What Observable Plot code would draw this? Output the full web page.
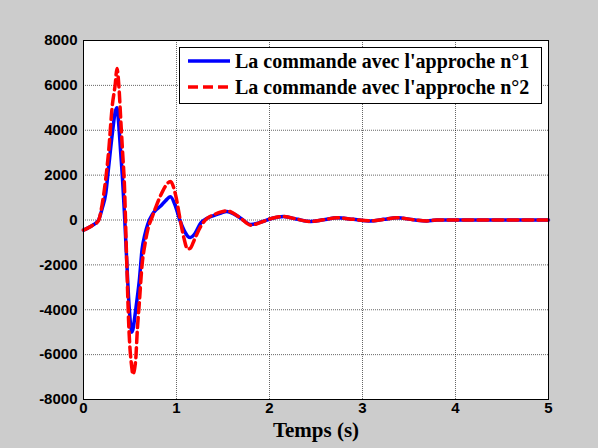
<!DOCTYPE html>
<html>
<head>
<meta charset="utf-8">
<script src="https://cdn.jsdelivr.net/npm/d3@7"></script>
<script src="https://cdn.jsdelivr.net/npm/@observablehq/plot@0.6"></script>
<style>
  html, body { margin: 0; padding: 0; background: #cccccc; }
  #wrap { position: relative; width: 598px; height: 448px; }
  #legend { position: absolute; left: 179px; top: 47px; }
</style>
</head>
<body>
<div id="wrap"></div>
<script>
// Time samples (s)
const time = [0, 0.05, 0.1, 0.16, 0.2, 0.24, 0.27, 0.31, 0.34, 0.36, 0.38, 0.40, 0.42, 0.44, 0.46, 0.49, 0.52, 0.53, 0.56, 0.58, 0.60, 0.63, 0.66, 0.69, 0.74, 0.78, 0.83, 0.88, 0.935, 0.99, 1.04, 1.08, 1.12, 1.15, 1.19, 1.26, 1.33, 1.40, 1.47, 1.54, 1.62, 1.69, 1.80, 1.92, 2.03, 2.15, 2.30, 2.44, 2.58, 2.73, 2.90, 3.09, 3.23, 3.37, 3.55, 3.69, 3.80, 4.0, 4.5, 5.0];
// Approach 1 (blue, solid)
const approche1 = [-450, -350, -230, -20, 500, 1200, 2350, 3850, 4800, 5000, 4200, 3000, 1800, 300, -1400, -3800, -5000, -4900, -4050, -3400, -2700, -1300, -650, -200, 250, 450, 620, 850, 1040, 600, -50, -450, -720, -780, -650, -140, 80, 200, 300, 380, 260, 80, -200, -80, 80, 160, 30, -70, 10, 100, 30, -40, 30, 100, 10, -40, 0, 0, 0, 0];
// Approach 2 (red, dashed)
const approche2 = [-450, -350, -230, -40, 680, 1860, 3040, 5120, 6000, 6750, 6000, 4520, 3040, 1560, -1200, -5000, -6600, -6880, -6290, -4810, -3700, -1990, -1100, -450, 150, 600, 1100, 1500, 1720, 1120, 0, -810, -1300, -1250, -900, -290, 80, 230, 350, 410, 280, 80, -230, -80, 80, 160, 30, -70, 10, 100, 30, -40, 30, 100, 10, -40, 0, 0, 0, 0];
const xTicks = [0, 1, 2, 3, 4, 5];
const yTicks = [-8000, -6000, -4000, -2000, 0, 2000, 4000, 6000, 8000];
const seriesNames = ["La commande avec l'approche n°1", "La commande avec l'approche n°2"];
const xLabel = "Temps (s)";

const data = time.map((t, i) => ({t, v1: approche1[i], v2: approche2[i]}));

const chart = Plot.plot({
  width: 598,
  height: 448,
  marginLeft: 83,
  marginRight: 50,
  marginTop: 40,
  marginBottom: 49,
  style: {background: "#cccccc", fontFamily: "'Liberation Sans', Arial, sans-serif", color: "black"},
  x: {domain: [0, 5]},
  y: {domain: [-8000, 8000]},
  marks: [
    Plot.frame({fill: "white", stroke: "none"}),
    Plot.gridX(xTicks, {stroke: "#000", strokeOpacity: 0.6, strokeDasharray: "1,1"}),
    Plot.gridY(yTicks, {stroke: "#000", strokeOpacity: 0.6, strokeDasharray: "1,1"}),
    Plot.line(data, {x: "t", y: "v1", stroke: "#0000ff", strokeWidth: 3.5, curve: "monotone-x"}),
    Plot.line(data, {x: "t", y: "v2", stroke: "#ff0000", strokeWidth: 3.5, strokeDasharray: "10,5", curve: "monotone-x"}),
    Plot.frame({stroke: "black", strokeWidth: 1}),
    Plot.axisX(xTicks, {tickSize: 0, tickPadding: 3, fontSize: 15, fontWeight: "bold", label: null, tickFormat: d => String(d)}),
    Plot.axisY(yTicks, {tickSize: 0, tickPadding: 6, fontSize: 15, fontWeight: "bold", label: null, tickFormat: d => String(d)}),
    Plot.text([xLabel], {text: d => d, frameAnchor: "bottom", dy: 37, fontSize: 21, fontWeight: "bold", fontFamily: "'Liberation Serif', 'Times New Roman', serif"})
  ]
});

const wrap = document.getElementById("wrap");
wrap.appendChild(chart);

// Legend (inside plot, top-right)
const lg = d3.select(wrap).append("svg")
  .attr("id", "legend").attr("width", 363).attr("height", 57);
lg.append("rect").attr("x", 0.5).attr("y", 0.5).attr("width", 362).attr("height", 56)
  .attr("fill", "white").attr("stroke", "black");
const styles = [{stroke: "#0000ff", dash: null}, {stroke: "#ff0000", dash: "10,5"}];
seriesNames.forEach((name, i) => {
  const cy = 14 + i * 26;
  lg.append("line").attr("x1", 9).attr("x2", 51).attr("y1", cy).attr("y2", cy)
    .attr("stroke", styles[i].stroke).attr("stroke-width", 3.5)
    .attr("stroke-dasharray", styles[i].dash);
  lg.append("text").attr("x", 56).attr("y", cy).attr("dy", "0.35em")
    .attr("font-family", "'Liberation Serif', 'Times New Roman', serif")
    .attr("font-weight", "bold").attr("font-size", 20).text(name);
});
</script>
</body>
</html>
